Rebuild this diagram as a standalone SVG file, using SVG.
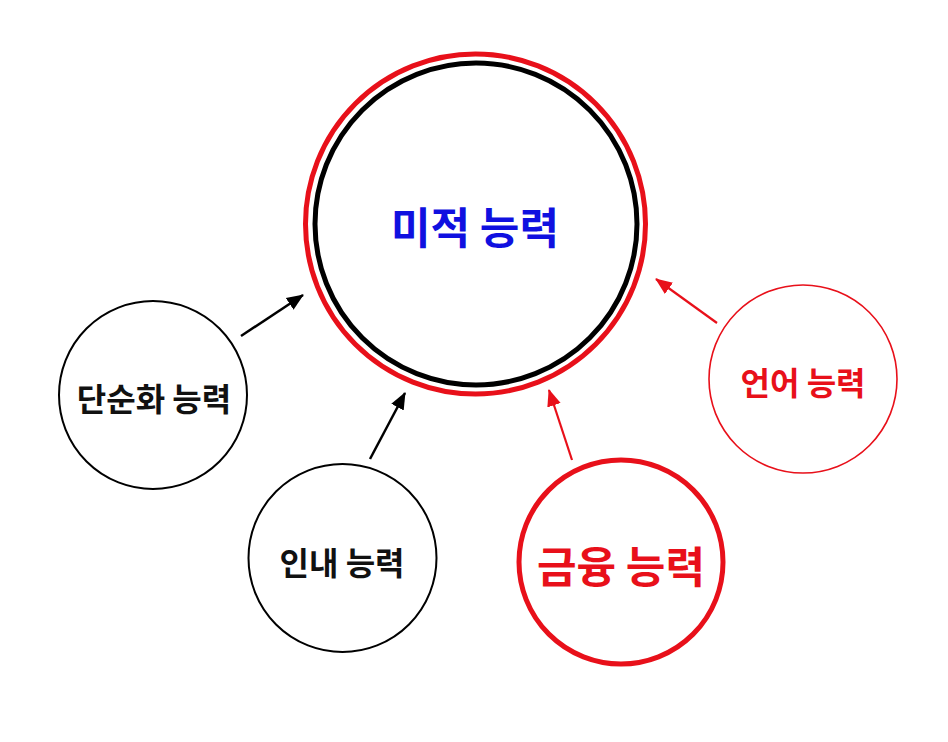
<svg xmlns="http://www.w3.org/2000/svg" width="948" height="742" viewBox="0 0 948 742">
<style>
text{font-family:"Noto Sans CJK KR","Noto Sans",sans-serif;font-weight:700;text-anchor:middle;dominant-baseline:central}
.thin{fill:#fff;stroke:#000;stroke-width:2}
.red{fill:#e8101a}
.blk{fill:#111}
</style>
<defs>
<marker id="ab" markerUnits="userSpaceOnUse" markerWidth="18" markerHeight="16" refX="16" refY="7" orient="auto" viewBox="0 0 18 14"><path d="M0,0 L17,7 L0,14 z" fill="#000"/></marker>
<marker id="ar" markerUnits="userSpaceOnUse" markerWidth="18" markerHeight="16" refX="16" refY="7" orient="auto" viewBox="0 0 18 14"><path d="M0,0 L17,7 L0,14 z" fill="#e8101a"/></marker>
</defs>
<rect width="948" height="742" fill="#fff"/>
<g id="connectors">
<line x1="241" y1="336" x2="303" y2="295" stroke="#000" stroke-width="2.5" marker-end="url(#ab)"/>
<line x1="370" y1="459" x2="405" y2="393" stroke="#000" stroke-width="2.5" marker-end="url(#ab)"/>
<line x1="572" y1="460" x2="549" y2="390" stroke="#e8101a" stroke-width="2.2" marker-end="url(#ar)"/>
<line x1="717" y1="323" x2="656" y2="279" stroke="#e8101a" stroke-width="2.2" marker-end="url(#ar)"/>
</g>
<g id="main">
<circle cx="475.5" cy="224" r="170" fill="#fff" stroke="#e8101a" stroke-width="5"/>
<circle cx="476" cy="224" r="161" fill="none" stroke="#000" stroke-width="5"/>
<text x="475" y="225" font-size="43" fill="#1010e0">미적 능력</text>
</g>
<g id="simplify">
<circle cx="153" cy="395" r="94" class="thin"/>
<text x="154" y="397" font-size="32" class="blk">단순화 능력</text>
</g>
<g id="patience">
<circle cx="342.5" cy="558" r="94" class="thin"/>
<text x="342" y="561" font-size="32" class="blk">인내 능력</text>
</g>
<g id="finance">
<circle cx="621" cy="562" r="102" fill="#fff" stroke="#e8101a" stroke-width="5"/>
<text x="621" y="564" font-size="43" class="red">금융 능력</text>
</g>
<g id="language">
<circle cx="803" cy="379" r="94" fill="#fff" stroke="#e8101a" stroke-width="1.6"/>
<text x="803" y="381" font-size="32" class="red">언어 능력</text>
</g>
</svg>
